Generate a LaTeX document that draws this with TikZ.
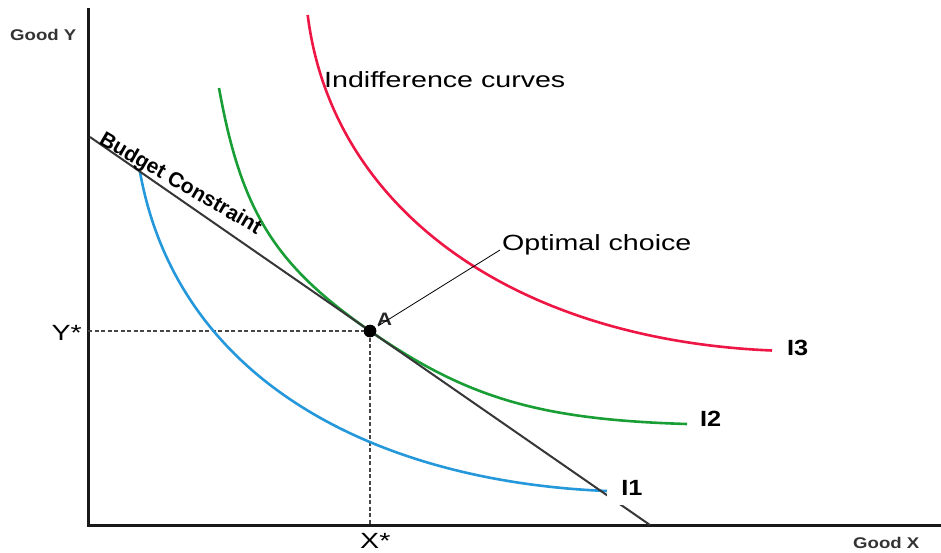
\documentclass[tikz,border=0pt]{standalone}
\usepackage{fontspec}
\setmainfont{Liberation Sans}
\newfontfamily\labfont[FakeStretch=1.3]{Liberation Sans}
\newfontfamily\boldlab[FakeStretch=1.15]{Liberation Sans Bold}
\newfontfamily\plainbold{Liberation Sans Bold}
\newfontfamily\axfont[FakeStretch=1.2]{Liberation Sans Bold}
\definecolor{icred}{RGB}{238,22,68}
\definecolor{icgreen}{RGB}{24,158,52}
\definecolor{icblue}{RGB}{36,152,218}
\definecolor{bline}{RGB}{55,55,55}
\definecolor{dashc}{RGB}{70,70,70}
\tikzset{
  curve/.style={line width=2.6pt},
  guide/.style={dashc, line width=2.2pt, dash pattern=on 4pt off 2.5pt},
  biglab/.style={font=\labfont\fontsize{22}{24}\selectfont, inner sep=0pt},
  ilab/.style={font=\boldlab\fontsize{22}{24}\selectfont, inner sep=0pt},
  axlab/.style={font=\axfont\fontsize{15.5}{17}\selectfont, text=black!80, inner sep=0pt},
}
\begin{document}
\begin{tikzpicture}[x=1pt,y=-1pt]
\useasboundingbox[fill=white] (0,0) rectangle (941,552);
% axes
\coordinate (ytop) at (88,8);
\coordinate (orig) at (88,525.5);
\coordinate (xend) at (941,525.5);
\draw[line width=3pt, black!90] (ytop) -- (orig) -- (xend);
% guide lines
\node[circle, fill=black, minimum size=12.5pt, inner sep=0pt] (ptA) at (370,331) {};
\coordinate (ys) at (88,331);
\coordinate (xs) at (370,525);
\draw[guide] (ys) -- (ptA.center);
\draw[guide] (ptA.center) -- (xs);
% indifference curves
\coordinate (r1) at (307.7,15);
\coordinate (r2) at (772,350.5);
\draw[curve, icred] (r1) .. controls (331.7,208.7) and (512.8,339.6) .. (r2);
\coordinate (g1) at (219,88);
\coordinate (g2) at (687,424);
\draw[curve, icgreen] (g1) .. controls (241.2,211.3) and (274.5,264.8) .. (ptA.center)
  .. controls (466.9,398.2) and (539.9,419.6) .. (g2);
\coordinate (c1) at (140,172);
\coordinate (c2) at (607,491);
\draw[curve, icblue] (c1) .. controls (178.2,383.8) and (380.1,481.9) .. (c2);
% budget line
\coordinate (b1) at (90,137);
\coordinate (b2) at (650,525);
\draw[bline, line width=2pt] (b1) -- (b2);
% dot on top
\node[circle, fill=black, minimum size=12.5pt, inner sep=0pt] at (ptA) {};
% labels
\node[axlab, anchor=base west] (gy) at (10,40.7) {Good Y};
\node[axlab, anchor=base west] (gx) at (853,548) {Good X};
\node[biglab, anchor=base east] (ystar) at (82,340) {Y*};
\node[biglab, anchor=base west] (xstar) at (360,548) {X*};
\node[biglab, anchor=base west] (ind) at (324,87) {Indifference curves};
\node[biglab, anchor=base west] (opt) at (502,250) {Optimal choice};
\node[font=\boldlab\fontsize{18}{20}\selectfont, text=black!85, inner sep=0pt, anchor=base west] (alab) at (377,325) {A};
\node[font=\plainbold\fontsize{21}{23}\selectfont, inner sep=0pt, anchor=base west, rotate=-30] (bc) at (98,143) {Budget Constraint};
\node[ilab, anchor=base west] (i3) at (787,355) {I3};
\node[ilab, anchor=base west] (i2) at (700,426) {I2};
\node[ilab, anchor=base, fill=white, inner xsep=14pt, inner ysep=10pt] (i1) at (632,495) {I1};
% leader
\coordinate (lead) at (378,326);
\draw[line width=0.8pt, black] (lead) -- ([xshift=-2pt]opt.base west);
\end{tikzpicture}
\end{document}
